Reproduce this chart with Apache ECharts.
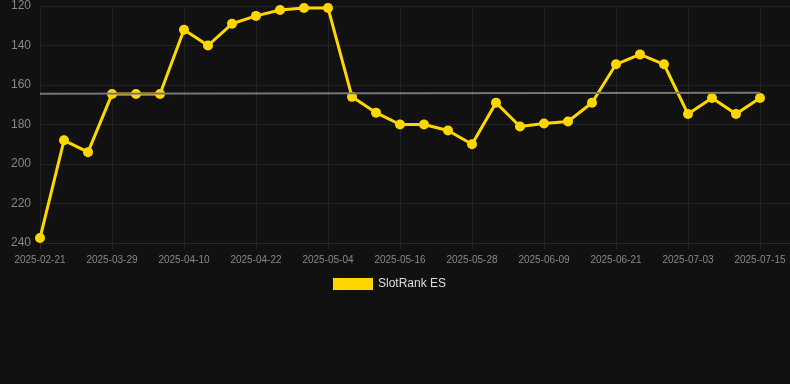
<!DOCTYPE html>
<html>
<head>
<meta charset="utf-8">
<script src="https://cdn.jsdelivr.net/npm/echarts@6/dist/echarts.min.js"></script>
<style>
html,body{margin:0;padding:0;background:#111111;}
#c{width:790px;height:384px;}
</style>
</head>
<body>
<div id="c"></div>
<script>
var categories = ['2025-02-21','2025-03-21','2025-03-25','2025-03-29','2025-04-02','2025-04-06','2025-04-10','2025-04-14','2025-04-18','2025-04-22','2025-04-26','2025-04-30','2025-05-04','2025-05-08','2025-05-12','2025-05-16','2025-05-20','2025-05-24','2025-05-28','2025-06-01','2025-06-05','2025-06-09','2025-06-13','2025-06-17','2025-06-21','2025-06-25','2025-06-29','2025-07-03','2025-07-07','2025-07-11','2025-07-15'];
var rankValues = [237.5,188,194,164.6,164.6,164.6,132,140,129,125,122,121,121,166,174,180,180,183,190,169,181,179.5,178.5,169,149.5,144.5,149.5,174.7,166.6,174.7,166.6];
var trendValues = [164.4, 163.9];
var yTicks = [120,140,160,180,200,220,240];

var chart = echarts.init(document.getElementById('c'));
var seriesData = rankValues.map(function(v,i){return [i,v];});
chart.setOption({
  backgroundColor:'#111111',
  animation:false,
  grid:{left:40,right:0,top:6,bottom:141},
  legend:{
    bottom:89,left:328,
    itemWidth:40,itemHeight:12,itemGap:10,
    icon:'rect',
    textStyle:{color:'#dddddd',fontSize:12,fontFamily:'Liberation Sans, Arial, sans-serif'},
    data:['SlotRank ES']
  },
  xAxis:{
    type:'value',min:0,max:31.25,interval:3,
    axisLine:{show:true,lineStyle:{color:'#2a2a2a'}},
    axisTick:{show:true,length:6,lineStyle:{color:'#2a2a2a'}},
    splitLine:{show:true,lineStyle:{color:'#222222'}},
    axisLabel:{
      color:'#888888',fontSize:10,fontFamily:'Liberation Sans, Arial, sans-serif',
      showMaxLabel:false,margin:12,
      formatter:function(v){return Number.isInteger(v)&&categories[v]?categories[v]:'';}
    }
  },
  yAxis:{
    type:'value',inverse:true,min:yTicks[0],max:yTicks[yTicks.length-1],interval:20,
    axisLine:{show:false},axisTick:{show:false},
    splitLine:{show:true,lineStyle:{color:'#222222'}},
    axisLabel:{color:'#888888',fontSize:12,fontFamily:'Liberation Sans, Arial, sans-serif',margin:9}
  },
  series:[{
    name:'SlotRank ES',type:'line',data:seriesData,
    symbol:'circle',symbolSize:10,
    lineStyle:{color:'#FFD700',width:3},
    itemStyle:{color:'#FFD700'},
    markLine:{
      silent:true,symbol:'none',label:{show:false},
      lineStyle:{color:'#777777',width:2,type:'solid'},
      data:[[{coord:[0,trendValues[0]]},{coord:[categories.length-1,trendValues[1]]}]]
    }
  }]
});
</script>
</body>
</html>
